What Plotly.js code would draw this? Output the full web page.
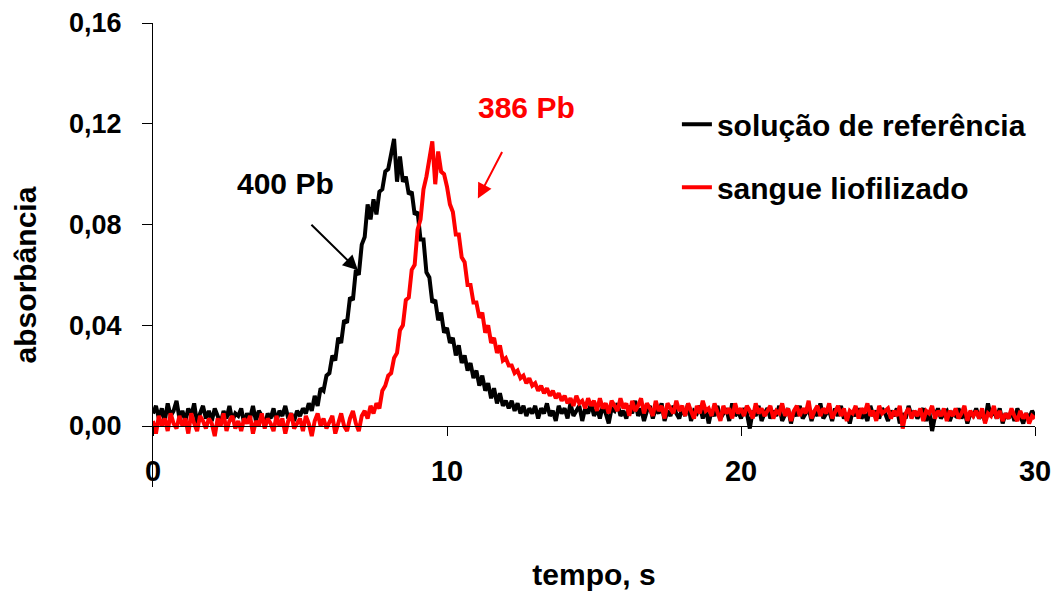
<!DOCTYPE html>
<html>
<head>
<meta charset="utf-8">
<script src="https://cdn.plot.ly/plotly-3.0.1.min.js"></script>
<style>html,body{margin:0;padding:0;background:#fff}#chart{width:1056px;height:596px}</style>
</head>
<body>
<div id="chart"></div>
<script>
// time axis: samples every 0.1 s starting at 0 s
const timeStart = 0;
const timeStep = 0.1;
const xTickValues = [0, 10, 20, 30];
const yTickValues = [0, 0.04, 0.08, 0.12, 0.16];
const seriesNames = ['solução de referência', 'sangue liofilizado'];

// absorbância – solução de referência (400 Pb)
const refSolution = [
0.005,0.008,0.003,0.007,0.002,0.009,0.004,0.006,0.010,0.003,
0.006,0.002,0.007,0.004,0.009,0.001,0.005,0.008,0.003,0.006,
0.002,0.007,0.004,0.001,0.006,0.003,0.008,0.002,0.005,0.004,
0.007,0.001,0.005,0.003,0.008,0.002,0.006,0.004,0.000,0.005,
0.003,0.007,0.002,0.006,0.004,0.008,0.003,0.005,0.002,0.006,
0.004,0.007,0.005,0.009,0.006,0.012,0.008,0.015,0.014,0.020,
0.021,0.028,0.026,0.035,0.033,0.042,0.041,0.051,0.050,0.062,
0.060,0.072,0.075,0.088,0.082,0.090,0.084,0.093,0.094,0.101,
0.102,0.109,0.114,0.097,0.107,0.097,0.099,0.092,0.093,0.084,
0.085,0.074,0.074,0.061,0.059,0.049,0.050,0.042,0.045,0.037,
0.039,0.033,0.035,0.028,0.032,0.025,0.028,0.022,0.025,0.019,
0.022,0.016,0.020,0.014,0.017,0.011,0.015,0.009,0.013,0.008,
0.010,0.007,0.010,0.006,0.009,0.005,0.008,0.004,0.007,0.005,
0.008,0.003,0.007,0.005,0.009,0.004,0.006,0.002,0.008,0.005,
0.007,0.003,0.009,0.004,0.006,0.008,0.002,0.007,0.005,0.009,
0.004,0.007,0.003,0.008,0.005,0.001,0.007,0.006,0.009,0.004,
0.006,0.003,0.008,0.005,0.010,0.004,0.007,0.002,0.006,0.008,
0.003,0.007,0.005,0.009,0.002,0.006,0.004,0.008,0.005,0.003,
0.007,0.004,0.009,0.002,0.006,0.005,0.008,0.003,0.007,0.001,
0.006,0.004,0.008,0.003,0.005,0.007,0.002,0.009,0.004,0.006,
0.003,0.007,0.005,-0.001,0.006,0.004,0.008,0.002,0.005,0.007,
0.003,0.006,0.004,0.008,0.002,0.005,0.007,0.001,0.006,0.004,
0.008,0.003,0.005,0.007,0.002,0.006,0.004,0.009,0.003,0.005,
0.006,0.002,0.007,0.004,0.008,0.003,0.005,0.001,0.006,0.004,
0.007,0.003,0.005,0.002,0.008,0.004,0.006,0.003,0.007,0.005,
0.002,0.006,0.004,0.007,0.001,0.005,0.003,0.008,0.004,0.006,
0.003,0.005,0.007,0.002,0.006,-0.002,0.004,0.007,0.003,0.005,
0.006,0.002,0.005,0.004,0.007,0.003,0.006,0.001,0.005,0.004,
0.007,0.003,0.005,0.002,0.009,0.004,0.006,0.003,0.007,0.001,
0.005,0.003,0.006,0.002,0.007,0.004,0.001,0.005,0.003,0.006,
0.004
];

// absorbância – sangue liofilizado (386 Pb)
const lyophilizedBlood = [
0.002,-0.003,0.004,0.000,0.003,-0.002,0.005,0.001,-0.001,0.004,
0.000,0.003,-0.003,0.005,0.001,-0.002,0.004,0.002,-0.001,0.003,
0.001,-0.004,0.003,0.000,0.005,-0.002,0.002,0.004,-0.001,0.002,
-0.002,0.003,0.001,0.004,-0.003,0.002,0.000,0.005,-0.001,0.003,
0.001,-0.002,0.004,0.000,0.003,-0.003,0.002,0.005,-0.001,0.001,
0.003,-0.002,0.004,0.001,-0.004,0.002,0.005,0.000,0.003,-0.001,
0.002,0.004,-0.003,0.001,0.005,0.000,-0.002,0.003,0.006,0.001,
-0.002,0.004,0.006,0.003,0.008,0.005,0.009,0.007,0.014,0.016,
0.020,0.021,0.027,0.029,0.038,0.040,0.050,0.051,0.062,0.064,
0.078,0.082,0.094,0.099,0.107,0.113,0.096,0.109,0.101,0.100,
0.095,0.088,0.085,0.076,0.076,0.067,0.065,0.056,0.056,0.049,
0.049,0.043,0.045,0.037,0.040,0.033,0.035,0.029,0.032,0.026,
0.027,0.024,0.024,0.021,0.022,0.019,0.020,0.017,0.019,0.016,
0.017,0.014,0.016,0.013,0.015,0.012,0.014,0.011,0.013,0.010,
0.012,0.009,0.011,0.008,0.012,0.009,0.010,0.007,0.011,0.008,
0.010,0.006,0.011,0.007,0.009,0.005,0.010,0.008,0.006,0.011,
0.007,0.009,0.004,0.010,0.006,0.008,0.011,0.005,0.009,0.007,
0.004,0.010,0.006,0.008,0.003,0.009,0.007,0.005,0.010,0.006,
0.008,0.004,0.009,0.006,0.003,0.008,0.005,0.010,0.006,0.007,
0.004,0.009,0.006,0.002,0.008,0.005,0.007,0.003,0.009,0.005,
0.007,0.004,0.008,0.006,0.003,0.009,0.005,0.007,0.004,0.006,
0.008,0.003,0.006,0.005,0.009,0.004,0.007,0.002,0.006,0.008,
0.004,0.007,0.005,0.010,0.003,0.006,0.008,0.004,0.007,0.005,
0.009,0.003,0.006,0.008,0.004,0.007,0.002,0.006,0.005,0.008,
0.003,0.007,0.005,0.009,0.004,0.006,0.002,0.008,0.005,0.006,
0.007,0.003,0.006,0.004,0.008,-0.001,0.005,0.007,0.003,0.006,
0.004,0.007,0.002,0.006,0.005,0.008,0.003,0.006,0.004,0.007,
0.002,0.006,0.004,0.007,0.003,0.005,0.008,0.002,0.006,0.004,
0.006,0.003,0.007,0.001,0.005,0.004,0.008,0.003,0.006,0.002,
0.005,0.003,0.007,0.004,0.002,0.006,0.003,0.005,0.001,0.004,
0.003
];

const FONT = 'Liberation Sans, Arial, Helvetica, sans-serif';

const traces = [
  {type: 'scatter', mode: 'lines', name: seriesNames[0], x0: timeStart, dx: timeStep, y: refSolution,
   line: {color: '#000000', width: 4}, legendgroup: 'a'},
  {type: 'scatter', mode: 'lines', name: seriesNames[1], x0: timeStart, dx: timeStep, y: lyophilizedBlood,
   line: {color: '#ff0000', width: 4}, legendgroup: 'b'}
];

const layout = {
  width: 1056, height: 596,
  margin: {l: 153, r: 21, t: 23, b: 109, pad: 0},
  paper_bgcolor: '#ffffff', plot_bgcolor: '#ffffff',
  separators: ',.',
  font: {family: FONT, size: 29, color: '#000000', weight: 'bold'},
  showlegend: true,
  legend: {x: 0.594, y: 0.838, xanchor: 'left', yanchor: 'top', bgcolor: 'rgba(0,0,0,0)',
           font: {family: FONT, size: 30, color: '#000000', weight: 'bold'},
           traceorder: 'grouped', tracegroupgap: 21},
  xaxis: {range: [0, 30], tickvals: xTickValues, ticks: 'outside', ticklen: 9, tickwidth: 1, tickcolor: '#000',
          showline: true, linecolor: '#000', linewidth: 1, showgrid: false, zeroline: false,
          anchor: 'free', position: 0.1315, ticklabelstandoff: 10,
          tickfont: {family: FONT, size: 29, weight: 'bold'},
          title: {text: 'tempo, s', font: {family: FONT, size: 30, weight: 'bold'}, standoff: 78}},
  yaxis: {range: [-0.02422, 0.16], tickvals: yTickValues, tickformat: '.2f', ticks: 'outside', ticklen: 10,
          tickwidth: 1, tickcolor: '#000', showline: true, linecolor: '#000', linewidth: 1,
          showgrid: false, zeroline: false, ticklabelstandoff: 15,
          tickfont: {family: FONT, size: 27, weight: 'bold'}},
  annotations: [
    {xref: 'paper', yref: 'paper', x: -0.1435, y: 0.457, text: 'absorbância', textangle: -90, showarrow: false,
     xanchor: 'center', yanchor: 'middle', font: {family: FONT, size: 30, weight: 'bold', color: '#000'}},
    {x: 4.52, y: 0.0962, text: '400 Pb', showarrow: false, font: {family: FONT, size: 30, weight: 'bold', color: '#000'}},
    {x: 12.72, y: 0.1263, text: '386 Pb', showarrow: false, font: {family: FONT, size: 30, weight: 'bold', color: '#ff0000'}},
    {x: 6.97, y: 0.0618, ax: -48, ay: -47, text: '', showarrow: true, arrowhead: 2, arrowsize: 1.5, arrowwidth: 2, arrowcolor: '#000'},
    {x: 11.05, y: 0.0903, ax: 25, ay: -48, text: '', showarrow: true, arrowhead: 2, arrowsize: 1.5, arrowwidth: 2, arrowcolor: '#ff0000'}
  ]
};

Plotly.newPlot('chart', traces, layout, {displayModeBar: false, staticPlot: true});
</script>
</body>
</html>
